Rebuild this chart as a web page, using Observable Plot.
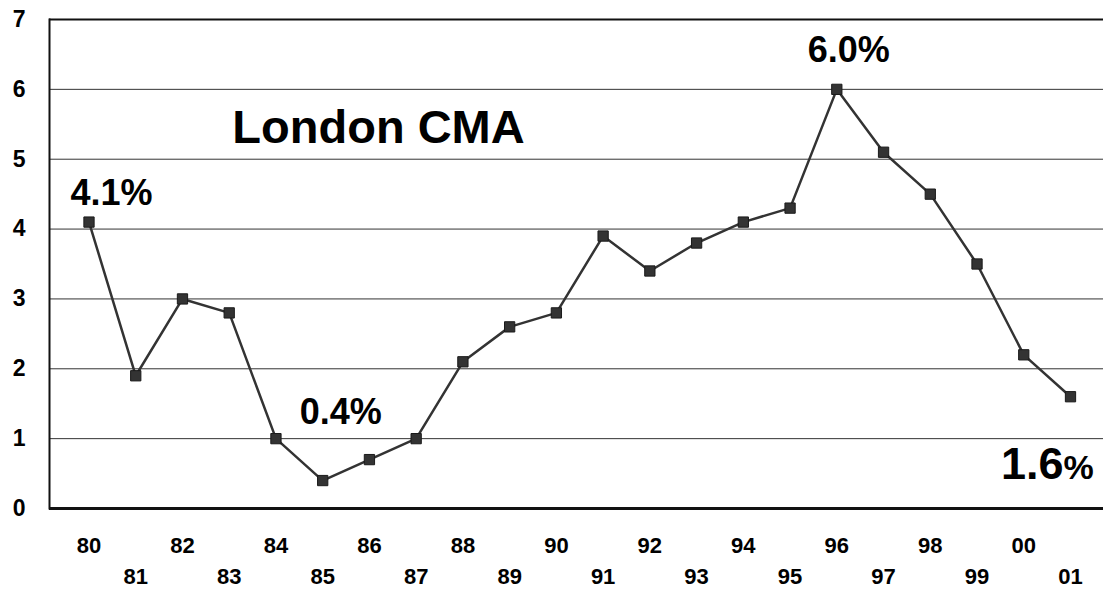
<!DOCTYPE html>
<html>
<head>
<meta charset="utf-8">
<script src="https://cdn.jsdelivr.net/npm/d3@7"></script>
<script src="https://cdn.jsdelivr.net/npm/@observablehq/plot@0.6"></script>
<style>
  html, body { margin: 0; padding: 0; background: #fff; }
  #chart svg { display: block; }
</style>
</head>
<body>
<div id="chart"></div>
<script>
const years = ["80","81","82","83","84","85","86","87","88","89","90","91","92","93","94","95","96","97","98","99","00","01"];
const rates = [4.1,1.9,3.0,2.8,1.0,0.4,0.7,1.0,2.1,2.6,2.8,3.9,3.4,3.8,4.1,4.3,6.0,5.1,4.5,3.5,2.2,1.6];
const yTicks = [0,1,2,3,4,5,6,7];
const gridTicks = [1,2,3,4,5,6];
const topRowYears = years.filter((d, i) => i % 2 === 0);
const bottomRowYears = years.filter((d, i) => i % 2 === 1);
const title = "London CMA";
const calloutYears = ["80","85","96","01"];
const calloutTexts = ["4.1%","0.4%","6.0%","1.6"];
const calloutSuffix = "%";

const data = years.map((y, i) => ({year: y, rate: rates[i]}));
const callout = (i) => [{year: calloutYears[i], rate: rates[years.indexOf(calloutYears[i])], text: calloutTexts[i]}];

const font = "'Liberation Sans', Arial, Helvetica, sans-serif";
const ink = "#333";

const chart = Plot.plot({
  width: 1103,
  height: 589,
  marginLeft: 49,
  marginRight: 0,
  marginTop: 19,
  marginBottom: 81,
  style: {fontFamily: font, background: "#fff", color: "#000"},
  x: {type: "point", domain: years, padding: 0, round: false, insetLeft: 39.5, insetRight: 33},
  y: {domain: [0, 7]},
  marks: [
    Plot.ruleY(gridTicks, {stroke: "#333", strokeWidth: 1}),
    Plot.ruleY([7], {stroke: "#111", strokeWidth: 2}),
    Plot.frame({anchor: "left", stroke: "#111", strokeWidth: 2}),
    Plot.axisY(yTicks, {tickSize: 0, tickPadding: 24, tickFormat: d3.format("d"), fontSize: 23, fontWeight: "bold", fill: "#000", label: null}),
    Plot.axisX(topRowYears, {tickSize: 0, tickPadding: 29, fontSize: 22, fontWeight: "bold", fill: "#000", label: null}),
    Plot.axisX(bottomRowYears, {tickSize: 0, tickPadding: 60, fontSize: 22, fontWeight: "bold", fill: "#000", label: null}),
    Plot.line(data, {x: "year", y: "rate", stroke: ink, strokeWidth: 2.5}),
    Plot.dot(data, {x: "year", y: "rate", symbol: "square", r: 5.8, fill: "#333", stroke: "#1a1a1a", strokeWidth: 1}),
    Plot.ruleY([0], {stroke: "#111", strokeWidth: 3}),
    Plot.text([title], {frameAnchor: "top-left", text: d => d, dx: 329, dy: 123, textAnchor: "middle", lineAnchor: "bottom", fontSize: 47, fontWeight: "bold", fill: "#000"}),
    Plot.text(callout(0), {x: "year", y: "rate", text: "text", dx: 22.5, dy: -17, textAnchor: "middle", lineAnchor: "bottom", fontSize: 36, fontWeight: "bold", fill: "#000"}),
    Plot.text(callout(1), {x: "year", y: "rate", text: "text", dx: 18, dy: -57, textAnchor: "middle", lineAnchor: "bottom", fontSize: 36, fontWeight: "bold", fill: "#000"}),
    Plot.text(callout(2), {x: "year", y: "rate", text: "text", dx: 12, dy: -27, textAnchor: "middle", lineAnchor: "bottom", fontSize: 36, fontWeight: "bold", fill: "#000"}),
    Plot.text(callout(3), {x: "year", y: "rate", text: "text", dx: -7, dy: 82, textAnchor: "end", lineAnchor: "bottom", fontSize: 45, fontWeight: "bold", fill: "#000"}),
    Plot.text(callout(3), {x: "year", y: "rate", text: () => calloutSuffix, dx: -7, dy: 82, textAnchor: "start", lineAnchor: "bottom", fontSize: 34, fontWeight: "bold", fill: "#000"})
  ]
});
document.getElementById("chart").appendChild(chart);
</script>
</body>
</html>
